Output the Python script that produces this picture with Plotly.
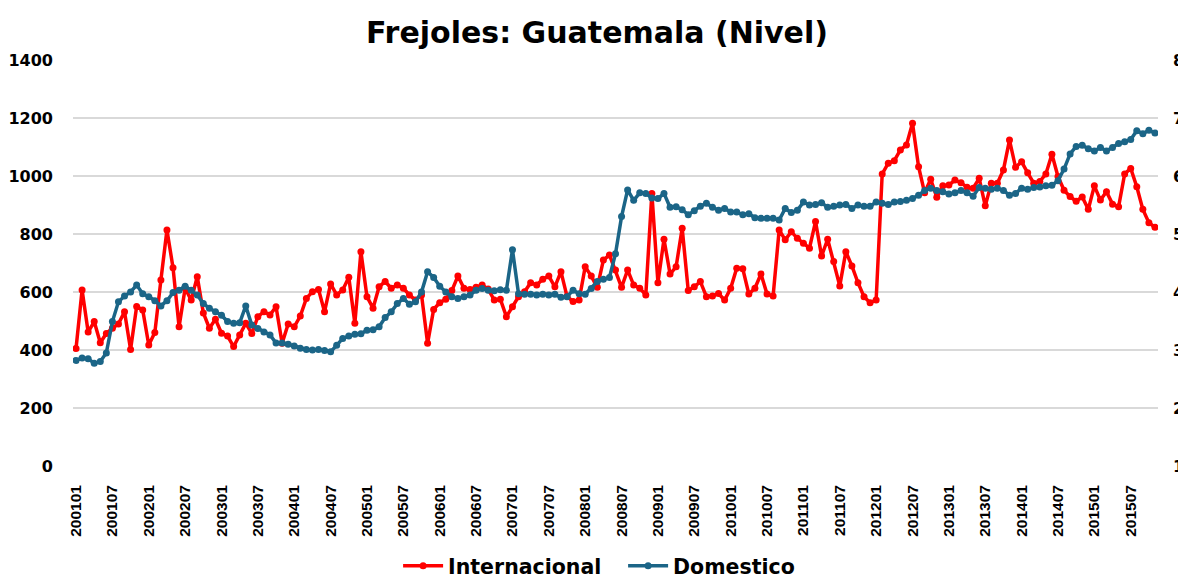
import plotly.graph_objects as go

# periodos mensuales 200101 .. 201511
periodos = [f"{a}{m:02d}" for a in range(2001, 2016) for m in range(1, 13)][:179]
etiquetas_x = periodos[::6]

internacional = [
    405, 607, 462, 498, 425, 457, 475, 490, 532, 402,
    550, 538, 417, 460, 641, 814, 684, 480, 613, 572,
    653, 528, 475, 506, 458, 448, 412, 452, 492, 457,
    515, 532, 521, 549, 423, 490, 480, 517, 578, 601,
    609, 532, 628, 590, 607, 651, 492, 739, 584, 544,
    618, 636, 613, 624, 613, 590, 572, 590, 423, 540,
    563, 575, 605, 655, 613, 609, 616, 624, 610, 572,
    575, 515, 549, 584, 601, 632, 624, 644, 655, 618,
    670, 585, 567, 572, 687, 655, 616, 710, 728, 676,
    616, 676, 624, 613, 590, 940, 632, 782, 662, 687,
    820, 605, 618, 636, 584, 586, 595, 572, 613, 682,
    680, 593, 613, 662, 593, 586, 814, 780, 808, 785,
    768, 751, 843, 724, 782, 705, 621, 739, 690, 632,
    584, 563, 572, 1007, 1044, 1053, 1090, 1107, 1182, 1032,
    942, 989, 927, 966, 969, 986, 977, 961, 958, 992,
    897, 975, 975, 1021, 1124, 1030, 1049, 1011, 975, 981,
    1007, 1075, 998, 951, 929, 913, 928, 885, 966, 917,
    946, 903, 894, 1007, 1026, 963, 885, 839, 823,
]

domestico = [
    282, 286, 285, 277, 280, 295, 349, 383, 393, 400,
    412, 397, 392, 385, 376, 385, 399, 403, 410, 403,
    395, 380, 372, 366, 360, 349, 346, 347, 376, 343,
    337, 331, 326, 312, 312, 310, 307, 303, 301, 300,
    301, 299, 297, 308, 320, 324, 327, 328, 334, 335,
    340, 356, 366, 380, 389, 379, 383, 400, 435, 425,
    410, 400, 392, 389, 392, 395, 403, 406, 403, 402,
    404, 403, 473, 397, 396, 396, 395, 396, 395, 396,
    391, 392, 403, 397, 396, 406, 418, 422, 425, 466,
    530, 576, 558, 571, 570, 562, 561, 570, 546, 547,
    542, 533, 540, 548, 553, 546, 541, 544, 538, 538,
    533, 535, 528, 527, 527, 527, 524, 544, 537, 541,
    555, 550, 551, 554, 546, 548, 550, 551, 544, 550,
    548, 548, 555, 553, 551, 555, 556, 558, 561, 567,
    575, 579, 575, 573, 569, 571, 575, 571, 565, 580,
    579, 577, 579, 575, 567, 570, 579, 577, 580, 581,
    583, 584, 592, 612, 638, 651, 653, 647, 643, 649,
    643, 649, 656, 659, 663, 678, 673, 679, 674,
]

ROJO = "#FF0000"
AZUL = "#1B6587"
BOLD = "DejaVu Sans"
ANGOSTA = "Liberation Sans"

fig = go.Figure()
fig.add_trace(
    go.Scatter(
        x=periodos,
        y=internacional,
        mode="lines+markers",
        name="Internacional",
        line=dict(color=ROJO, width=3.5),
        marker=dict(color=ROJO, size=7),
    )
)
fig.add_trace(
    go.Scatter(
        x=periodos,
        y=domestico,
        mode="lines+markers",
        name="Domestico",
        yaxis="y2",
        line=dict(color=AZUL, width=3.5),
        marker=dict(color=AZUL, size=7),
    )
)

fig.update_layout(
    width=1178,
    height=576,
    title=dict(
        text="Frejoles: Guatemala (Nivel)",
        x=0.5,
        xanchor="center",
        y=0.958,
        yanchor="middle",
        font=dict(family=BOLD, size=30, color="#000000", weight="bold"),
    ),
    font=dict(family=BOLD, color="#000000"),
    plot_bgcolor="white",
    paper_bgcolor="white",
    margin=dict(l=65, r=28, t=52, b=118, autoexpand=False),
    showlegend=True,
    legend=dict(
        orientation="h",
        x=0.507,
        xanchor="center",
        y=-0.246,
        yanchor="middle",
        font=dict(family=BOLD, size=20.5, weight="bold"),
        itemwidth=40,
        entrywidth=170,
        entrywidthmode="pixels",
        traceorder="normal",
    ),
    xaxis=dict(
        type="category",
        range=[-0.5, len(periodos) - 0.5],
        tickmode="array",
        tickvals=etiquetas_x,
        ticktext=etiquetas_x,
        tickangle=-90,
        ticks="",
        showgrid=False,
        showline=False,
        zeroline=False,
        automargin=False,
        ticklabelstandoff=15,
        tickfont=dict(family=ANGOSTA, size=15.5, weight="bold"),
    ),
    yaxis=dict(
        range=[0, 1400],
        dtick=200,
        showgrid=True,
        gridcolor="#D9D9D9",
        gridwidth=1.5,
        zeroline=False,
        showline=False,
        ticks="",
        automargin=False,
        ticklabelstandoff=19,
        tickfont=dict(family=BOLD, size=16, weight="bold"),
    ),
    yaxis2=dict(
        range=[100, 800],
        dtick=100,
        overlaying="y",
        side="right",
        showgrid=False,
        zeroline=False,
        showline=False,
        ticks="",
        automargin=False,
        ticklabelstandoff=14,
        tickfont=dict(family=BOLD, size=16, weight="bold"),
    ),
)

fig.write_html("out.html")
